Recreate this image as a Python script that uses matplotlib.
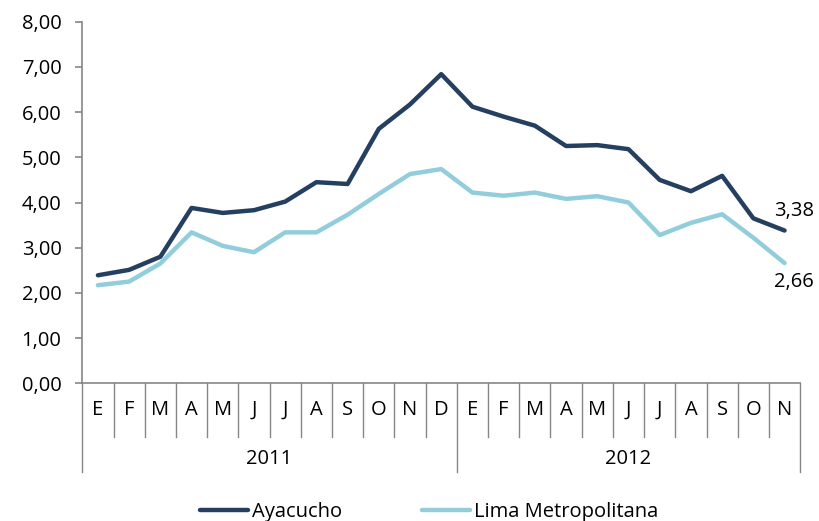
import matplotlib.pyplot as plt
from matplotlib.lines import Line2D
import matplotlib.transforms as mtransforms

plt.rcParams['font.family'] = ['Open Sans', 'DejaVu Sans']

MONTHS_2011 = ['E', 'F', 'M', 'A', 'M', 'J', 'J', 'A', 'S', 'O', 'N', 'D']
MONTHS_2012 = ['E', 'F', 'M', 'A', 'M', 'J', 'J', 'A', 'S', 'O', 'N']
YEARS = ['2011', '2012']

ayacucho = [2.39, 2.51, 2.80, 3.88, 3.77, 3.83, 4.02, 4.45, 4.41, 5.63, 6.17, 6.84,
            6.12, 5.90, 5.70, 5.25, 5.27, 5.18, 4.50, 4.25, 4.59, 3.65, 3.38]
lima = [2.17, 2.25, 2.65, 3.34, 3.04, 2.90, 3.34, 3.34, 3.73, 4.19, 4.63, 4.74,
        4.22, 4.15, 4.22, 4.08, 4.14, 4.00, 3.28, 3.55, 3.74, 3.22, 2.66]

DARK = '#243f60'
LIGHT = '#92cddc'
GRAY = '#868686'
FS = 14.5

months = MONTHS_2011 + MONTHS_2012
n = len(months)
x = list(range(n))

fig = plt.figure(figsize=(8.19, 5.21), dpi=100)
ax = fig.add_axes([0.1005, 0.2643, 0.8765, 0.694])

ax.plot(x, ayacucho, color=DARK, lw=3.2, solid_capstyle='round', label='Ayacucho')
ax.plot(x, lima, color=LIGHT, lw=3.2, solid_capstyle='round', label='Lima Metropolitana')

ax.set_xlim(-0.5, n - 0.5)
ax.set_ylim(0, 8)
ax.set_yticks(range(9))
ax.set_yticklabels([f'{v:.2f}'.replace('.', ',') for v in range(9)], fontsize=FS)
ax.tick_params(axis='y', length=5, color=GRAY, width=1.2, pad=10)
ax.set_xticks([])

for s in ['top', 'right']:
    ax.spines[s].set_visible(False)
for s in ['left', 'bottom']:
    ax.spines[s].set_color(GRAY)
    ax.spines[s].set_linewidth(1.2)

# end labels
ax.text(n - 1 + 0.3, ayacucho[-1] + 0.2, f'{ayacucho[-1]:.2f}'.replace('.', ','),
        ha='center', va='bottom', fontsize=FS)
ax.text(n - 1 + 0.3, lima[-1] - 0.2, f'{lima[-1]:.2f}'.replace('.', ','),
        ha='center', va='top', fontsize=FS)

# two-level category axis
trans = mtransforms.blended_transform_factory(ax.transData, ax.transAxes)
month_bottom = -0.148
year_bottom = -0.244
year_edges = [-0.5, len(MONTHS_2011) - 0.5, n - 0.5]
for i in range(n + 1):
    xb = i - 0.5
    low = year_bottom if xb in year_edges else month_bottom
    ax.add_line(Line2D([xb, xb], [0, low], transform=trans, color=GRAY,
                       lw=1.0, clip_on=False))
for i, m in enumerate(months):
    ax.text(i, -0.074, m, transform=trans, ha='center', va='center', fontsize=FS)
ax.text((year_edges[0] + year_edges[1]) / 2, -0.21, YEARS[0], transform=trans,
        ha='center', va='center', fontsize=FS)
ax.text((year_edges[1] + year_edges[2]) / 2, -0.21, YEARS[1], transform=trans,
        ha='center', va='center', fontsize=FS)

fig.legend(loc='center', bbox_to_anchor=(0.524, 0.018), ncol=2, frameon=False,
           fontsize=FS, handlelength=2.35, handletextpad=0.2, columnspacing=4.0)

fig.savefig('out.png', dpi=100)
